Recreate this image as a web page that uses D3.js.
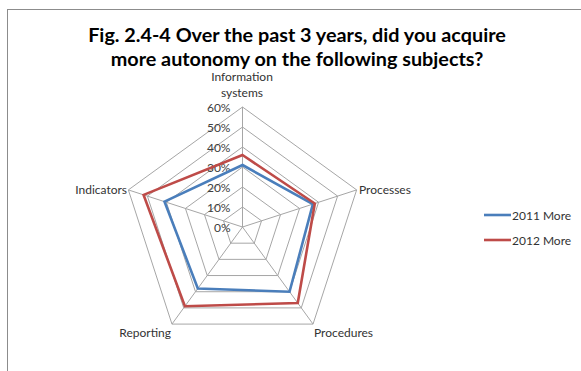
<!DOCTYPE html>
<html><head><meta charset="utf-8">
<script src="https://cdn.jsdelivr.net/npm/d3@7/dist/d3.min.js"></script>
<style>body{margin:0;background:#fff}svg{display:block}</style>
</head><body><svg id="c" width="581" height="371"></svg>
<script>
const categories = [["Information","systems"],["Processes"],["Procedures"],["Reporting"],["Indicators"]];
const seriesNames = ["2011 More","2012 More"];
const values2011 = [0.31, 0.37, 0.40, 0.38, 0.41];
const values2012 = [0.36, 0.38, 0.47, 0.49, 0.52];
const tickValues = [0, 0.1, 0.2, 0.3, 0.4, 0.5, 0.6];
const colors = ["#4a7ebb", "#be4b48"];

const svg = d3.select("#c");
const font = "Lato, 'Open Sans', sans-serif";
// border
svg.append("rect").attr("x",7.5).attr("y",9.5).attr("width",600).attr("height",400)
  .attr("fill","none").attr("stroke","#8c8c8c").attr("stroke-width",1);

// title
const title = svg.append("text").attr("text-anchor","middle").attr("font-family",font)
  .attr("font-weight","bold").attr("font-size",19.8).attr("fill","#000");
title.append("tspan").attr("x",297).attr("y",42).text("Fig. 2.4-4 Over the past 3 years, did you acquire");
title.append("tspan").attr("x",297).attr("y",66).text("more autonomy on the following subjects?");

const cx = 242.5, cy = 227;
const r = d3.scaleLinear().domain([0,0.6]).range([0,120]);
const n = categories.length;
const ang = i => -Math.PI/2 + i*2*Math.PI/n;
const pt = (i,v) => [cx + r(v)*Math.cos(ang(i)), cy + r(v)*Math.sin(ang(i))];

const g = svg.append("g");
// grid polygons
tickValues.slice(1).forEach(t => {
  g.append("polygon").attr("points", d3.range(n).map(i => pt(i,t).join(",")).join(" "))
   .attr("fill","none").attr("stroke","#a6a6a6").attr("stroke-width",1);
});
// spokes
d3.range(n).forEach(i => {
  const p = pt(i,0.6);
  g.append("line").attr("x1",cx).attr("y1",cy).attr("x2",p[0]).attr("y2",p[1])
   .attr("stroke","#a6a6a6").attr("stroke-width",1);
});
// tick labels
tickValues.forEach(t => {
  g.append("text").attr("x",cx-12).attr("y",cy - r(t) + 4.5).attr("text-anchor","end")
   .attr("font-family",font).attr("font-size",12).attr("fill","#404040")
   .text(d3.format(".0%")(t));
});
// series
const line = d3.line().curve(d3.curveLinearClosed);
[values2011, values2012].forEach((vals,k) => {
  g.append("path").attr("d", line(vals.map((v,i)=>pt(i,v))))
   .attr("fill","none").attr("stroke",colors[k]).attr("stroke-width",2.6)
   .attr("stroke-linejoin","miter");
});
// category labels
const labelPos = [
  {x:242, y:81, a:"middle"},
  {x:359, y:194, a:"start"},
  {x:314, y:337, a:"start"},
  {x:171, y:337, a:"end"},
  {x:127, y:194, a:"end"}
];
categories.forEach((c,i) => {
  const lp = labelPos[i];
  const t = g.append("text").attr("text-anchor",lp.a).attr("font-family",font)
    .attr("font-size",12).attr("fill","#333");
  c.forEach((s,j) => t.append("tspan").attr("x",lp.x).attr("y",lp.y + j*16).text(s));
});
// legend
seriesNames.forEach((s,k) => {
  const y = 215 + k*25;
  svg.append("line").attr("x1",484).attr("x2",511).attr("y1",y).attr("y2",y)
    .attr("stroke",colors[k]).attr("stroke-width",2.6);
  svg.append("text").attr("x",512).attr("y",y+4.5).attr("font-family",font)
    .attr("font-size",12).attr("fill","#333").text(s);
});
</script></body></html>
